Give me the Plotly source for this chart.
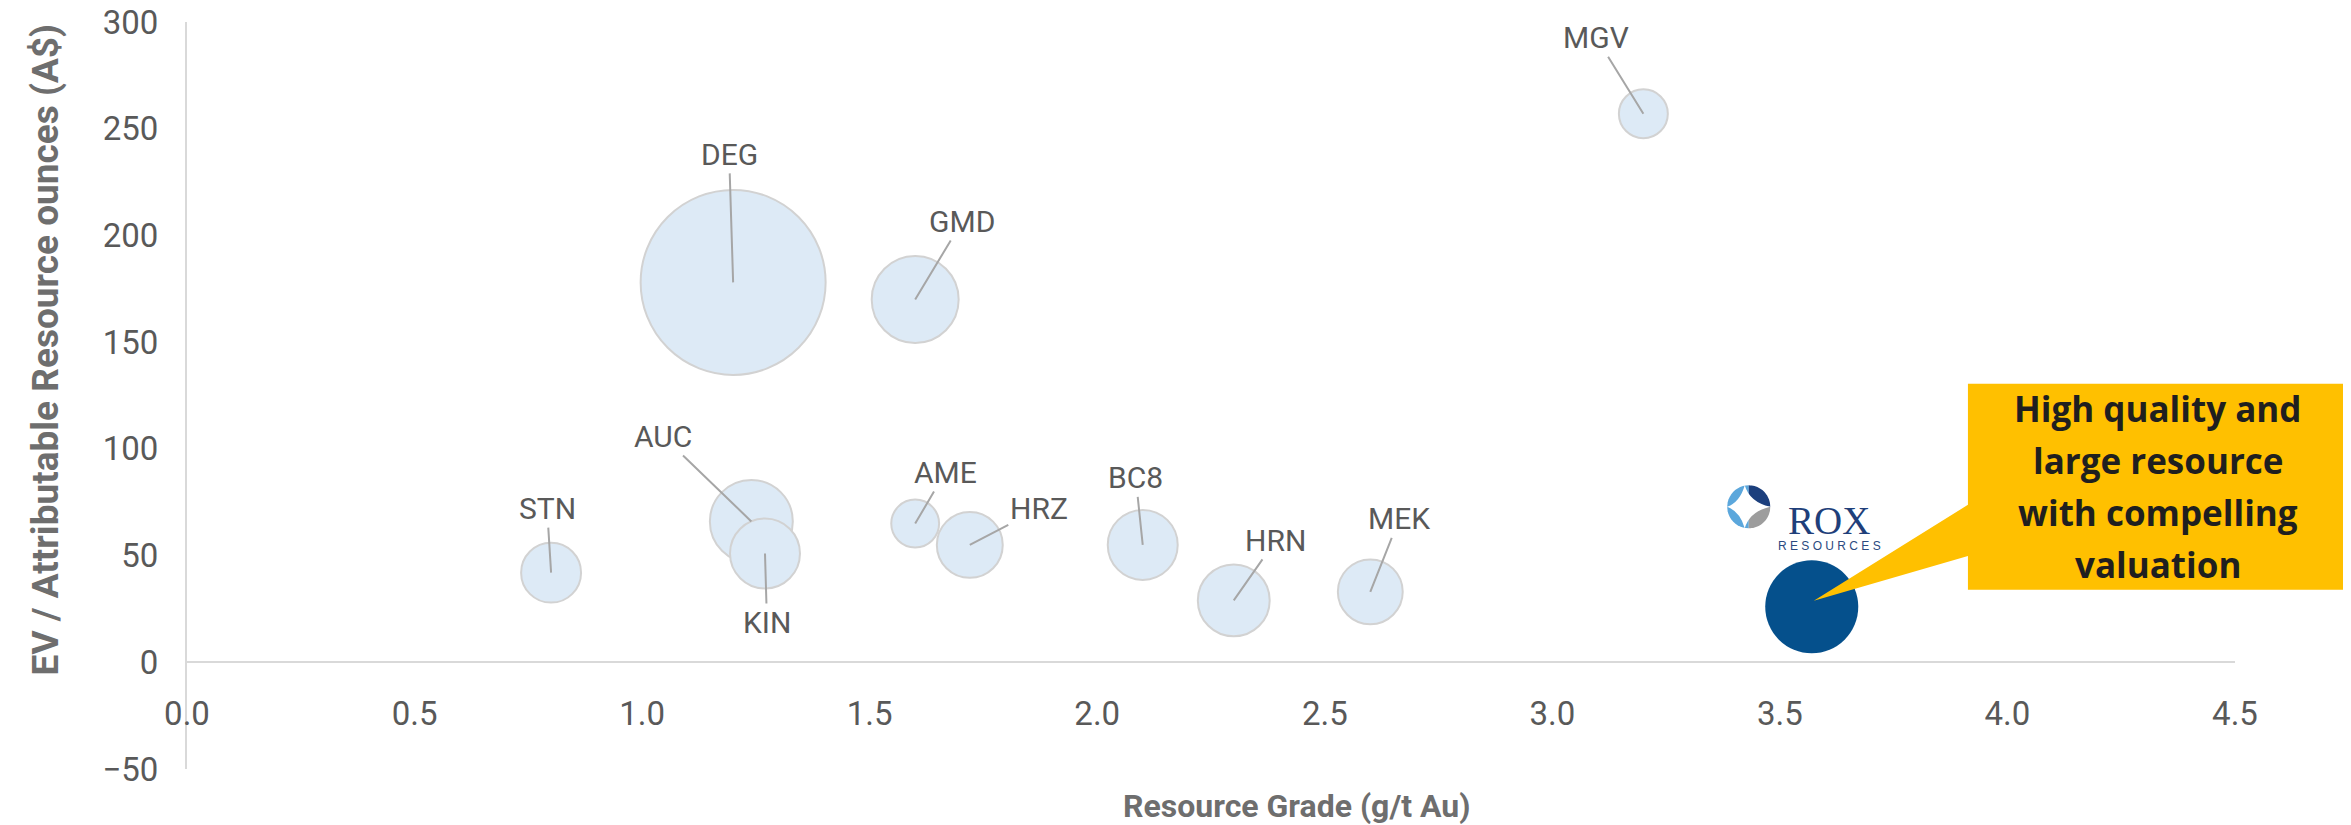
import numpy as np
import plotly.graph_objects as go

# Peer data
companies = ["STN", "DEG", "GMD", "AUC", "KIN", "AME", "HRZ", "BC8", "HRN", "MEK", "MGV", "ROX"]
grade_gt = [0.80, 1.20, 1.60, 1.24, 1.27, 1.60, 1.72, 2.10, 2.30, 2.60, 3.20, 3.57]
ev_per_oz = [42, 178, 170, 66, 51, 65, 55, 55, 29, 33, 257, 26]
resource_moz = [1.05, 10.0, 2.21, 2.01, 1.43, 0.67, 1.27, 1.43, 1.51, 1.23, 0.70, 2.53]

x_ticks = [0.0, 0.5, 1.0, 1.5, 2.0, 2.5, 3.0, 3.5, 4.0, 4.5]
y_ticks = [-50, 0, 50, 100, 150, 200, 250, 300]

callout_lines = ["High quality and", "large resource", "with compelling", "valuation"]

# label offsets (px) of each peer's tag relative to its bubble
label_offsets = {
    "STN": (-4, -64), "DEG": (-4, -128), "GMD": (47, -78), "AUC": (-88, -85),
    "KIN": (2, 69), "AME": (30, -51), "HRZ": (69, -36), "BC8": (-7, -67),
    "HRN": (42, -60), "MEK": (29, -73), "MGV": (-47, -76),
}

X_RANGE = [0, 4.5]
Y_RANGE = [-50, 300]
FONT = "Roboto, Arial, sans-serif"
GREY_TXT = "#595959"
AXIS_TXT = "#6e6e6e"

diam = 58.5 * np.sqrt(np.array(resource_moz))
is_rox = np.array([c == "ROX" for c in companies])

fig = go.Figure()

peers = ~is_rox
fig.add_trace(go.Scatter(
    x=np.array(grade_gt)[peers],
    y=np.array(ev_per_oz)[peers],
    text=np.array(companies)[peers],
    mode="markers",
    marker=dict(size=diam[peers], sizemode="diameter", color="#ddeaf6",
                line=dict(color="#d2d2d2", width=2), opacity=1),
    hovertemplate="%{text}<br>Grade: %{x:.2f} g/t<br>EV/oz: A$%{y:.0f}<extra></extra>",
    showlegend=False,
))
fig.add_trace(go.Scatter(
    x=np.array(grade_gt)[is_rox],
    y=np.array(ev_per_oz)[is_rox],
    text=np.array(companies)[is_rox],
    mode="markers",
    marker=dict(size=diam[is_rox], sizemode="diameter", color="#05508c",
                line=dict(width=0), opacity=1),
    hovertemplate="%{text}<br>Grade: %{x:.2f} g/t<br>EV/oz: A$%{y:.0f}<extra></extra>",
    showlegend=False,
))

# Peer tags with leader lines
for name, gx, ev in zip(companies, grade_gt, ev_per_oz):
    if name not in label_offsets:
        continue
    ax, ay = label_offsets[name]
    fig.add_annotation(
        x=gx, y=ev, text=name, showarrow=True, ax=ax, ay=ay,
        arrowhead=0, arrowwidth=2, arrowcolor="#a6a6a6", standoff=0,
        font=dict(family=FONT, size=30, color=GREY_TXT),
    )

# Callout box pointing at ROX
rox_x = float(np.array(grade_gt)[is_rox][0])
rox_y = float(np.array(ev_per_oz)[is_rox][0])
tip_x = (rox_x - X_RANGE[0]) / (X_RANGE[1] - X_RANGE[0])
tip_y = (rox_y - Y_RANGE[0]) / (Y_RANGE[1] - Y_RANGE[0])
bx0, bx1, by0, by1 = 0.8696, 1.0552, 0.2398, 0.5157
fig.add_shape(
    type="path", xref="paper", yref="paper",
    path=(f"M {bx0},{by1} L {bx1},{by1} L {bx1},{by0} L {bx0},{by0} "
          f"L {bx0},0.2853 L {tip_x + 0.001},{tip_y + 0.008} L {bx0},0.3537 Z"),
    fillcolor="#ffc000", line=dict(width=0), layer="above",
)
mid_y = (by0 + by1) / 2
n = len(callout_lines)
for i, line in enumerate(callout_lines):
    fig.add_annotation(
        x=(bx0 + bx1) / 2, y=mid_y, xref="paper", yref="paper",
        xanchor="center", yanchor="middle",
        yshift=(n - 1) / 2 * 52 - i * 52, showarrow=False, text=f"<b>{line}</b>",
        font=dict(family="Open Sans, sans-serif", size=35, color="#1f1f1f"),
    )

# ROX logo (approximation) anchored to the ROX bubble
lx, ly, r = -63, 100, 21.5
def wedge(a0, a1, steps=24):
    t = np.radians(np.linspace(a0, a1, steps))
    pts = [f"{lx + r * np.cos(a):.1f},{ly + r * np.sin(a):.1f}" for a in t]
    return f"M {lx},{ly} L " + " L ".join(pts) + " Z"

for a0, a1, col in [(90, 270, "#5ba7dc"), (0, 90, "#1c3f7d"), (-90, 0, "#9d9d9d")]:
    fig.add_shape(type="path", xref="x", yref="y", xsizemode="pixel", ysizemode="pixel",
                  xanchor=rox_x, yanchor=rox_y, path=wedge(a0, a1),
                  fillcolor=col, line=dict(width=0))
k = 0.22 * r
star = (f"M {lx - 4},{ly + r} Q {lx - 4 + k},{ly + k} {lx + r},{ly} "
        f"Q {lx - 4 + k},{ly - k} {lx - 4},{ly - r} "
        f"Q {lx - 4 - k},{ly - k} {lx - r},{ly} "
        f"Q {lx - 4 - k},{ly + k} {lx - 4},{ly + r} Z")
fig.add_shape(type="path", xref="x", yref="y", xsizemode="pixel", ysizemode="pixel",
              xanchor=rox_x, yanchor=rox_y, path=star, fillcolor="white", line=dict(width=0))
fig.add_annotation(x=rox_x, y=rox_y, xshift=17, yshift=86, showarrow=False, text="ROX",
                   font=dict(family="Liberation Serif, serif", size=39, color="#1f3f7a"))
fig.add_annotation(x=rox_x, y=rox_y, xshift=18, yshift=61, showarrow=False,
                   text="R E S O U R C E S",
                   font=dict(family="Liberation Sans, sans-serif", size=12, color="#2b4a80"))

# Axis titles
fig.add_annotation(x=-0.0691, y=0.561, xref="paper", yref="paper", showarrow=False,
                   xanchor="center", yanchor="middle", textangle=-90,
                   text="<b>EV / Attributable Resource ounces (A$)</b>",
                   font=dict(family=FONT, size=37, color=AXIS_TXT))
fig.add_annotation(x=0.5419, y=-0.0496, xref="paper", yref="paper", showarrow=False,
                   xanchor="center", yanchor="middle",
                   text="<b>Resource Grade (g/t Au)</b>",
                   font=dict(family=FONT, size=32, color=AXIS_TXT))

# the page body adds an 8px offset, so the figure is shrunk by that much
fig.update_layout(
    width=2343, height=817,
    margin=dict(l=179, r=116, t=14, b=56, autoexpand=False),
    plot_bgcolor="white", paper_bgcolor="white",
    showlegend=False,
    xaxis=dict(
        range=X_RANGE, tickvals=x_ticks, ticktext=[f"{v:.1f}" for v in x_ticks],
        anchor="free", position=(0 - Y_RANGE[0]) / (Y_RANGE[1] - Y_RANGE[0]),
        showline=True, linecolor="#d9d9d9", linewidth=2, showgrid=False, zeroline=False,
        ticks="", ticklabelstandoff=22, automargin=False, ticklabeloverflow="allow",
        tickfont=dict(family=FONT, size=33, color=GREY_TXT),
    ),
    yaxis=dict(
        range=Y_RANGE, tickvals=y_ticks,
        showline=True, linecolor="#d9d9d9", linewidth=2, showgrid=False, zeroline=False,
        ticks="", ticklabelstandoff=20, automargin=False, ticklabeloverflow="allow",
        tickfont=dict(family=FONT, size=33, color=GREY_TXT),
    ),
)

fig.write_html("out.html")
